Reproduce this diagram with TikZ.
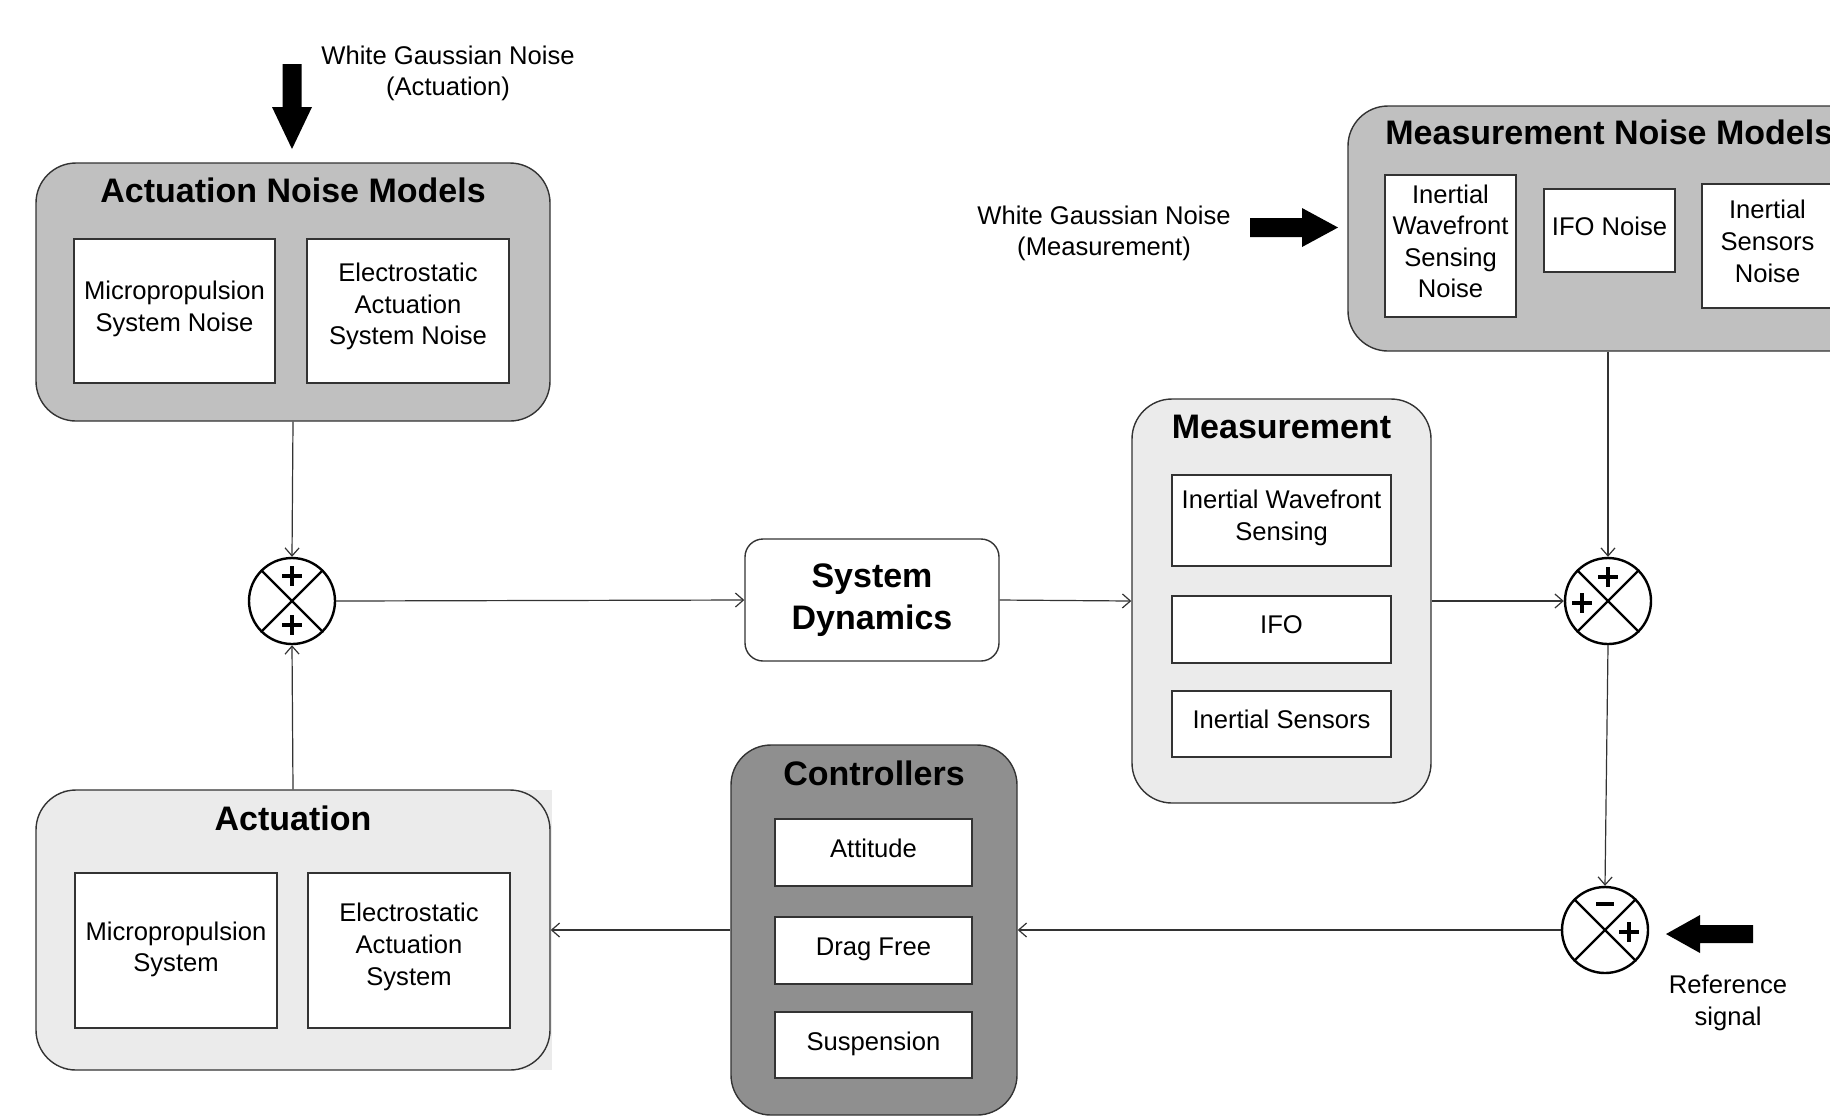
\documentclass[tikz,border=0pt]{standalone}
\usepackage{fontspec}
\setmainfont{Liberation Sans}
\usetikzlibrary{arrows.meta,calc}
\definecolor{strokec}{HTML}{333333}
\definecolor{anmfill}{HTML}{C0C0C0}
\definecolor{lightfill}{HTML}{EBEBEB}
\definecolor{ctrlfill}{HTML}{8F8F8F}
\begin{document}
\begin{tikzpicture}[x=0.5pt,y=-0.5pt,
  txt/.style={font=\fontsize{12.8}{15.8}\selectfont, align=center},
  ttl/.style={font=\fontsize{17}{21}\selectfont\bfseries, align=center},
  group/.style={draw=strokec, line width=0.7pt, rounded corners=20pt, inner sep=0pt},
  inbox/.style={draw=strokec, line width=0.7pt, fill=white, inner sep=0pt},
  bt/.style={txt, yshift=#1},
  sumj/.style={circle, draw=black, line width=1.2pt, fill=white, minimum size=43pt, inner sep=0pt},
  conn/.style={draw=strokec, line width=0.6pt, -{Straight Barb[length=4pt,width=7pt]}},
  sign/.style={line width=1.6pt},
  bigarrow/.style={fill=black},
]
\useasboundingbox (0,0) rectangle (1830,1116);
\clip (0,0) rectangle (1830,1116);

% Actuation Noise Models
\node[group, fill=anmfill, minimum width=257pt, minimum height=129pt] (anm) at (293,292) {};
\node[ttl] (anmt) at (293,190) {Actuation Noise Models};
\node[inbox, minimum width=100.5pt, minimum height=72pt, label={[bt=1.2pt]center:{Micropropulsion\\System Noise}}] (anm1) at (174.5,311) {};
\node[inbox, minimum width=101pt, minimum height=72pt, label={[bt=2.3pt]center:{Electrostatic\\Actuation\\System Noise}}] (anm2) at (408,311) {};

% White Gaussian noise (actuation)
\fill[bigarrow] (282.5,64) -- (301.5,64) -- (301.5,107) -- (312,107) -- (292,149) -- (272,107) -- (282.5,107) -- cycle;
\node[txt] (wgna) at (448,73.5) {White Gaussian Noise\\(Actuation)};

% Actuation
\fill[lightfill] (63,790) rectangle (552,1070);
\node[group, fill=lightfill, minimum width=257pt, minimum height=140pt] (act) at (293,930) {};
\node[ttl] (actt) at (293,818) {Actuation};
\node[inbox, minimum width=101pt, minimum height=77.5pt, label={[bt=0.6pt]center:{Micropropulsion\\System}}] (act1) at (176,950.5) {};
\node[inbox, minimum width=101pt, minimum height=77.5pt, label={[bt=1.8pt]center:{Electrostatic\\Actuation\\System}}] (act2) at (409,950.5) {};

% Summing junctions
\node[sumj] (j1) at (292,601) {};
\node[sumj] (j2) at (1608,601) {};
\node[sumj] (j3) at (1605,930) {};
\foreach \j in {j1,j2,j3}{
  \draw[line width=1.2pt] (\j.45) -- (\j.225) (\j.135) -- (\j.315);
}
\draw[sign] ($(j1)+(-10,-25)$) -- ++(20,0) ($(j1)+(0,-35)$) -- ++(0,20);
\draw[sign] ($(j1)+(-10,24)$) -- ++(20,0) ($(j1)+(0,14)$) -- ++(0,20);
\draw[sign] ($(j2)+(-10,-24)$) -- ++(20,0) ($(j2)+(0,-34)$) -- ++(0,20);
\draw[sign] ($(j2)+(-36,2)$) -- ++(20,0) ($(j2)+(-26,-8)$) -- ++(0,20);
\draw[sign] ($(j3)+(-9,-26)$) -- ++(18,0);
\draw[sign] ($(j3)+(14,2)$) -- ++(20,0) ($(j3)+(24,-8)$) -- ++(0,20);

% System Dynamics
\node[draw=strokec, line width=0.7pt, rounded corners=9pt, fill=white, minimum width=127pt, minimum height=61pt, ttl] (sd) at (872,600) {System\\Dynamics};

% Measurement
\node[group, fill=lightfill, minimum width=149.5pt, minimum height=202pt] (meas) at (1281.5,601) {};
\node[ttl] (meast) at (1281.5,427) {Measurement};
\node[inbox, minimum width=109.5pt, minimum height=45.5pt, label={[bt=1.2pt]center:{Inertial Wavefront\\Sensing}}] (m1) at (1281.5,520.5) {};
\node[inbox, minimum width=109.5pt, minimum height=33.5pt, label={[bt=2.3pt]center:{IFO}}] (m2) at (1281.5,629.5) {};
\node[inbox, minimum width=109.5pt, minimum height=33pt, label={[bt=2.3pt]center:{Inertial Sensors}}] (m3) at (1281.5,724) {};

% Measurement Noise Models
\node[group, fill=anmfill, minimum width=271pt, minimum height=122.5pt] (mnm) at (1619,228.5) {};
\node[ttl, anchor=west, inner sep=0pt] (mnmt) at (1385,132) {Measurement Noise Models};
\node[inbox, minimum width=65.5pt, minimum height=71pt, label={[bt=2.3pt]center:{Inertial\\Wavefront\\Sensing\\Noise}}] (mn1) at (1450.5,246) {};
\node[inbox, minimum width=65.5pt, minimum height=41.5pt, label={[bt=2.3pt]center:{IFO Noise}}] (mn2) at (1609.5,230.5) {};
\node[inbox, minimum width=65.5pt, minimum height=62pt, label={[bt=2.3pt]center:{Inertial\\Sensors\\Noise}}] (mn3) at (1767.5,246) {};

% White Gaussian noise (measurement)
\fill[bigarrow] (1250,218) -- (1302,218) -- (1302,208) -- (1338,227.5) -- (1302,247) -- (1302,237) -- (1250,237) -- cycle;
\node[txt] (wgnm) at (1104,233.5) {White Gaussian Noise\\(Measurement)};

% Reference signal
\fill[bigarrow] (1753,925) -- (1700,925) -- (1700,915) -- (1666,934) -- (1700,953) -- (1700,943) -- (1753,943) -- cycle;
\node[txt] (refl) at (1728,1003) {Reference\\signal};

% Controllers
\node[group, fill=ctrlfill, minimum width=143pt, minimum height=185pt] (ctrl) at (874,930) {};
\node[ttl] (ctrlt) at (874,773) {Controllers};
\node[inbox, minimum width=98.5pt, minimum height=33.5pt, label={[bt=2.3pt]center:{Attitude}}] (c1) at (873.5,852.5) {};
\node[inbox, minimum width=98.5pt, minimum height=33.5pt, label={[bt=0.6pt]center:{Drag Free}}] (c2) at (873.5,950.5) {};
\node[inbox, minimum width=98.5pt, minimum height=33pt, label={[bt=0.6pt]center:{Suspension}}] (c3) at (873.5,1045) {};

% Connectors
\draw[conn] (anm.south) -- (j1.north);
\draw[conn] (act.north) -- (j1.south);
\draw[conn] (j1.east) -- (sd.west);
\draw[conn] (sd.east) -- (meas.west);
\draw[conn] (meas.east) -- (j2.west);
\draw[conn] (j2 |- mnm.south) -- (j2.north);
\draw[conn] (j2.south) -- (j3.north);
\draw[conn] (j3.west) -- (ctrl.east);
\draw[conn] (ctrl.west) -- (act.east);
\end{tikzpicture}
\end{document}
